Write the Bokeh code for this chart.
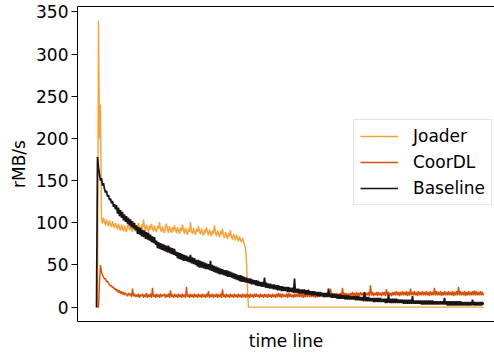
from bokeh.plotting import figure
from bokeh.models import Range1d, FixedTicker, LinearAxis, Legend, LegendItem, ColumnDataSource
from bokeh.embed import file_html
from bokeh.resources import INLINE

# ---- data (x = sample index along the time line) ----
series_names = ["Joader", "CoorDL", "Baseline"]
y_ticks = [0, 50, 100, 150, 200, 250, 300, 350]

joader = [
    0, 0, 340, 200, 240, 104, 99, 106, 101, 97, 104, 99, 96, 103, 98, 95, 102, 97, 94, 100,
    96, 92, 99, 94, 91, 98, 93, 90, 97, 92, 89, 96, 103, 91, 97, 92, 89, 98, 93, 90,
    97, 92, 100, 94, 90, 98, 93, 104, 95, 91, 98, 93, 89, 97, 92, 99, 94, 90, 97, 92,
    89, 96, 93, 101, 92, 89, 96, 91, 88, 95, 99, 92, 88, 96, 91, 88, 95, 90, 97, 92,
    88, 95, 91, 87, 94, 90, 98, 91, 87, 94, 89, 86, 93, 89, 101, 90, 87, 94, 89, 86,
    93, 89, 96, 90, 86, 93, 88, 85, 92, 88, 95, 89, 85, 92, 88, 84, 91, 87, 97, 88,
    84, 91, 87, 83, 90, 86, 93, 85, 82, 89, 85, 81, 88, 84, 91, 83, 80, 87, 83, 79,
    86, 82, 78, 84, 80, 77, 82, 78, 74, 70, 55, 20, 0, 0, 0, 0, 0, 0, 0, 0,
    0, 0, 0, 0, 0, 0, 0, 0, 0, 0, 0, 0, 0, 0, 0, 0, 0, 0, 0, 0,
    0, 0, 0, 0, 0, 0, 0, 0, 0, 0, 0, 0, 0, 0, 0, 0, 0, 0, 0, 0,
    0, 0, 0, 0, 0, 0, 0, 0, 0, 0, 0, 0, 0, 0, 0, 0, 0, 0, 0, 0,
    0, 0, 0, 0, 0, 0, 0, 0, 0, 0, 0, 0, 0, 0, 0, 0, 0, 0, 0, 0,
    0, 0, 0, 0, 0, 0, 0, 0, 0, 0, 0, 0, 0, 0, 0, 0, 0, 0, 0, 0,
    0, 0, 0, 0, 0, 0, 0, 0, 0, 0, 0, 0, 0, 0, 0, 0, 0, 0, 0, 0,
    0, 0, 0, 0, 0, 0, 0, 0, 0, 0, 0, 0, 0, 0, 0, 0, 0, 0, 0, 0,
    0, 0, 0, 0, 0, 0, 0, 0, 0, 0, 0, 0, 0, 0, 0, 0, 0, 0, 0, 0,
    0, 0, 0, 0, 0, 0, 0, 0, 0, 0, 0, 0, 0, 0, 0, 0, 0, 0, 0, 0,
    0, 0, 0, 0, 0, 0, 0, 0, 0, 0, 0, 0, 0, 0, 0, 0, 0, 0, 0, 0,
    0, 0, 0, 0, 0, 0, 0, 0, 0, 0, 0, 0, 0, 0, 0, 0, 0, 0, 0, 0,
    0, 0, 0, 0, 0, 0, 0, 0,
]

coordl = [
    0, 0, 0, 30, 50, 42, 38, 36, 33, 34, 30, 31, 28, 27, 25, 26, 23, 24, 21, 22,
    19, 21, 17, 20, 16, 19, 15, 18, 14, 17, 15, 13, 17, 14, 16, 12, 22, 13, 16, 12,
    15, 12, 16, 11, 15, 13, 16, 11, 15, 12, 17, 11, 15, 12, 16, 11, 23, 12, 15, 11,
    16, 12, 15, 11, 16, 12, 15, 13, 16, 11, 15, 12, 16, 11, 20, 12, 15, 11, 16, 12,
    15, 11, 16, 12, 15, 11, 16, 12, 15, 11, 24, 12, 15, 11, 16, 12, 15, 11, 16, 12,
    15, 11, 16, 12, 15, 11, 16, 12, 15, 11, 16, 12, 19, 11, 15, 12, 16, 11, 15, 12,
    16, 11, 15, 12, 16, 11, 21, 12, 15, 11, 16, 12, 15, 11, 16, 12, 15, 11, 16, 12,
    15, 11, 16, 12, 15, 11, 16, 12, 15, 11, 16, 12, 15, 11, 16, 12, 15, 11, 16, 12,
    16, 12, 15, 11, 16, 12, 15, 11, 16, 12, 15, 11, 16, 12, 15, 11, 16, 12, 15, 11,
    16, 12, 17, 12, 16, 11, 16, 12, 15, 12, 16, 11, 17, 12, 16, 12, 15, 11, 16, 12,
    16, 12, 17, 12, 16, 12, 16, 11, 17, 12, 16, 12, 21, 12, 16, 12, 17, 12, 16, 11,
    17, 12, 16, 12, 17, 13, 16, 12, 17, 12, 16, 13, 17, 12, 22, 13, 17, 12, 16, 13,
    17, 13, 16, 12, 17, 13, 23, 13, 17, 12, 17, 13, 16, 13, 17, 13, 18, 13, 17, 12,
    18, 13, 17, 13, 18, 14, 17, 13, 18, 13, 17, 14, 18, 13, 26, 14, 18, 13, 17, 14,
    18, 13, 18, 14, 17, 13, 18, 14, 18, 13, 21, 14, 18, 14, 17, 13, 18, 14, 18, 14,
    19, 14, 18, 13, 18, 14, 19, 14, 18, 14, 19, 13, 18, 14, 22, 14, 18, 14, 19, 14,
    18, 13, 19, 14, 18, 14, 19, 14, 18, 14, 19, 14, 18, 13, 19, 14, 18, 14, 23, 14,
    19, 14, 18, 14, 19, 13, 18, 14, 19, 14, 18, 14, 19, 14, 18, 14, 19, 13, 18, 14,
    19, 14, 24, 14, 19, 14, 18, 14, 19, 13, 18, 14, 19, 14, 18, 14, 19, 14, 20, 14,
    19, 14, 18, 14, 19, 14, 18, 14,
]

baseline = [
    0, 178, 166, 157, 150, 153, 144, 147, 140, 136, 138, 131, 133, 127, 129, 123, 126, 119, 122, 116,
    121, 111, 118, 108, 115, 106, 113, 103, 110, 101, 108, 99, 106, 97, 104, 95, 102, 93, 100, 91,
    97, 87, 95, 86, 94, 84, 92, 83, 91, 81, 89, 80, 88, 79, 86, 77, 84, 76, 83, 74,
    79, 70, 77, 69, 76, 68, 75, 67, 74, 66, 73, 65, 73, 64, 71, 63, 70, 62, 69, 61,
    66, 58, 65, 57, 64, 56, 63, 55, 62, 55, 61, 54, 60, 53, 62, 52, 59, 51, 58, 50,
    56, 48, 56, 47, 55, 47, 54, 46, 53, 45, 52, 45, 51, 44, 55, 43, 50, 42, 49, 41,
    48, 40, 47, 39, 46, 39, 45, 38, 44, 37, 44, 36, 43, 36, 42, 35, 41, 34, 40, 33,
    39, 32, 38, 31, 38, 30, 37, 30, 36, 29, 35, 29, 34, 28, 34, 27, 33, 27, 32, 26,
    32, 25, 31, 25, 30, 24, 30, 24, 35, 23, 29, 23, 28, 22, 28, 22, 27, 21, 27, 21,
    26, 20, 26, 20, 25, 19, 25, 19, 24, 19, 24, 18, 24, 18, 23, 18, 23, 17, 34, 17,
    22, 17, 22, 16, 21, 16, 21, 16, 21, 15, 20, 15, 20, 15, 19, 14, 19, 14, 19, 14,
    18, 13, 18, 13, 18, 13, 17, 12, 17, 12, 17, 12, 22, 12, 16, 11, 16, 11, 16, 11,
    15, 10, 15, 10, 15, 10, 14, 10, 14, 9, 14, 9, 14, 9, 13, 9, 13, 9, 13, 8,
    13, 8, 13, 8, 12, 8, 12, 7, 18, 7, 12, 7, 12, 7, 11, 7, 11, 6, 11, 6,
    11, 6, 11, 6, 11, 6, 10, 6, 10, 5, 10, 5, 15, 5, 10, 5, 10, 5, 10, 5,
    10, 5, 9, 5, 9, 5, 9, 4, 9, 4, 9, 4, 9, 4, 9, 4, 13, 4, 8, 4,
    8, 4, 8, 4, 8, 3, 8, 3, 8, 3, 8, 3, 8, 3, 8, 3, 8, 3, 7, 3,
    7, 3, 7, 3, 7, 3, 7, 3, 11, 3, 7, 2, 7, 2, 7, 2, 7, 2, 7, 2,
    7, 2, 7, 2, 7, 2, 6, 2, 6, 2, 6, 2, 6, 2, 6, 2, 9, 2, 6, 2,
    6, 2, 6, 2, 6, 2, 6, 3,
]

series_values = {"Joader": joader, "CoorDL": coordl, "Baseline": baseline}
colors = {"Joader": "#f2a33a", "CoorDL": "#d5520b", "Baseline": "#1b1414"}
widths = {"Joader": 1.4, "CoorDL": 1.4, "Baseline": 1.7}
FONT = "DejaVu Sans"
FS = "17px"

p = figure(width=494, height=357, output_backend="svg", toolbar_location=None,
           x_range=Range1d(-19, 398), y_range=Range1d(-17, 356.5),
           min_border_left=77, min_border_right=0, min_border_top=6, min_border_bottom=36)
p.outline_line_color = None
p.grid.visible = False
p.background_fill_color = "white"
p.border_fill_color = "white"

renderers = {}
for name in series_names:
    vals = series_values[name]
    src = ColumnDataSource(dict(t=list(range(len(vals))), v=vals))
    renderers[name] = p.line("t", "v", source=src, line_color=colors[name], line_width=widths[name])

# y axis
ya = p.yaxis[0]
ya.ticker = FixedTicker(ticks=y_ticks)
ya.major_tick_in = 0
ya.major_tick_out = 6
ya.minor_tick_in = 0
ya.minor_tick_out = 0
ya.major_label_standoff = 3
ya.major_label_text_font = FONT
ya.major_label_text_font_size = FS
ya.major_label_text_color = "black"
ya.axis_line_color = "black"
ya.major_tick_line_color = "black"
ya.axis_label = "rMB/s"
ya.axis_label_text_font = FONT
ya.axis_label_text_font_size = FS
ya.axis_label_text_font_style = "normal"
ya.axis_label_text_color = "black"
ya.axis_label_standoff = 4

# x axis (no ticks)
xa = p.xaxis[0]
xa.ticker = FixedTicker(ticks=[])
xa.major_tick_in = 0
xa.major_tick_out = 0
xa.minor_tick_in = 0
xa.minor_tick_out = 0
xa.major_label_standoff = 0
xa.axis_line_color = "black"
xa.axis_label = "time line"
xa.axis_label_text_font = FONT
xa.axis_label_text_font_size = FS
xa.axis_label_text_font_style = "normal"
xa.axis_label_text_color = "black"
xa.axis_label_standoff = 9

# top spine
top = LinearAxis(ticker=FixedTicker(ticks=[]), major_tick_in=0, major_tick_out=0,
                 minor_tick_in=0, minor_tick_out=0, major_label_standoff=0,
                 axis_line_color="black")
p.add_layout(top, "above")

legend = Legend(items=[LegendItem(label=n, renderers=[renderers[n]]) for n in series_names],
                location=(276, 116))
legend.padding = 6
legend.spacing = 6
legend.margin = 0
legend.label_standoff = 15
legend.glyph_width = 38
legend.glyph_height = 20
legend.label_height = 20
legend.label_text_font = FONT
legend.label_text_font_size = FS
legend.label_text_color = "black"
legend.border_line_color = "#cccccc"
legend.border_line_width = 1
legend.background_fill_color = "white"
legend.background_fill_alpha = 0.8
p.add_layout(legend)

open("out.html", "w").write(file_html(p, INLINE))
